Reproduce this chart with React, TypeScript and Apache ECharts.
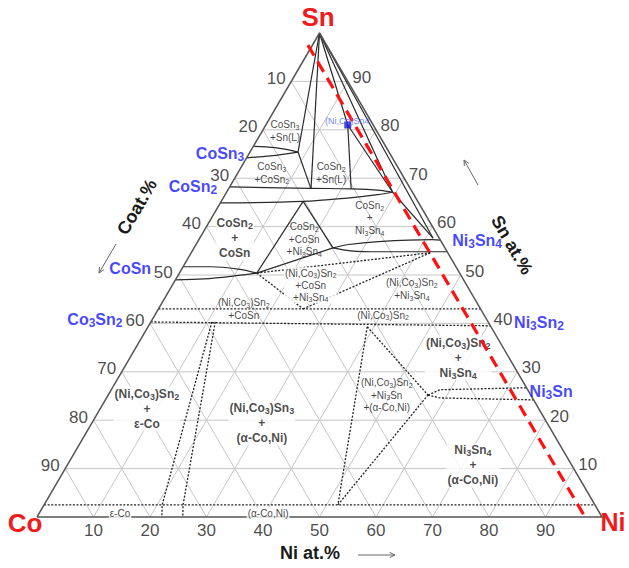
import React, { useEffect, useRef } from "react";
import * as echarts from "echarts";

// Ternary points are [Ni at.%, Sn at.%]; Co = 100 - Ni - Sn
type TP = [number, number];

const STEPS = [10, 20, 30, 40, 50, 60, 70, 80, 90];
const NI_TICKS = [10, 20, 30, 40, 50, 60, 70, 80, 90];
const CO_TICKS = [10, 20, 30, 40, 50, 60, 70, 80, 90];
const SN_TICKS = [10, 20, 30, 40, 50, 60, 70, 80, 90];

const TRIANGLE: TP[] = [[0, 0], [100, 0], [0, 100], [0, 0]];

// solid straight tie / boundary lines
const SOLID_LINES: TP[][] = [
  [[0, 100], [8.5, 75.4]],
  [[0, 100], [14.6, 67.8]],
  [[8.5, 75.4], [14.6, 67.8]],
  [[0, 100], [14.5, 81.0]],
  [[0, 100], [29.4, 67.1]],
  [[0, 100], [41.3, 57.6]],
  [[14.5, 81.0], [21.7, 67.8]],
  [[14.5, 81.0], [29.4, 67.1]],
  [[29.4, 67.1], [41.3, 57.6]],
  [[14.5, 65.2], [13.7, 50.4]],
  [[14.5, 65.2], [24.6, 55.6]],
  [[13.7, 50.4], [24.6, 55.6]],
];

// lens-shaped single-phase regions (solid curves)
const LENS_LINES: TP[][] = [
  [[0, 76.6], [4, 76.3], [8.5, 75.4]],
  [[0, 74.2], [4, 74.6], [8.5, 75.4]],
  [[0, 68.2], [14.6, 67.9], [21.7, 67.8], [27, 67.5], [29.4, 67.1]],
  [[0, 64.9], [14.5, 65.2], [22, 65.9], [27, 66.6], [29.4, 67.1]],
  [[24.6, 55.6], [27, 56.3], [32, 56.9], [41.3, 57.3], [42.8, 57.2]],
  [[24.6, 55.6], [28, 55.0], [33.3, 54.8], [45.2, 54.8]],
  [[0, 51.7], [5, 51.7], [10, 51.2], [13.7, 50.4]],
  [[0, 49.0], [5, 49.2], [10, 49.8], [13.7, 50.4]],
];

// dotted (estimated) boundaries
const DOTTED_LINES: TP[][] = [
  [[13.7, 50.4], [42.3, 54.6]],
  [[25.6, 43.0], [42.3, 54.6]],
  [[13.7, 50.4], [25.6, 43.0]],
  [[0, 43.0], [57, 43.0]],
  [[0, 40.3], [60.5, 39.5]],
  [[10.8, 40.3], [20.9, 2.5], [22.1, 0]],
  [[11.4, 40.3], [24.6, 2.5], [25.8, 0]],
  [[0, 2.5], [97.5, 2.5]],
  [[38.8, 39.3], [52.0, 2.5]],
  [[38.8, 39.3], [56.6, 25.2]],
  [[52.0, 2.5], [56.6, 25.2]],
  [[56.6, 25.2], [58.2, 26.3], [73.3, 26.7]],
  [[56.6, 25.2], [59.0, 24.6], [75.7, 24.2]],
];

const RED_DASH: TP[] = [[-0.8, 97.5], [97, 0]];
const NICOSN4_POINT: TP[] = [[14.5, 81.0]];

type Lbl = { text: string; at: TP };

const MINOR_LABELS: Lbl[] = [
  { text: "CoSn_3\n+Sn(L)", at: [4.0, 79.8] },
  { text: "CoSn_3\n+CoSn_2", at: [6.0, 71.1] },
  { text: "CoSn_2\n+Sn(L)", at: [16.5, 71.1] },
  { text: "CoSn_2\n+\nNi_3Sn_4", at: [28.0, 61.8] },
  { text: "CoSn_2\n+CoSn\n+Ni_3Sn_4", at: [18.6, 57.4] },
  { text: "(Ni,Co_3)Sn_2\n+Ni_3Sn_4", at: [42.8, 47.1] },
  { text: "(Ni,Co_3)Sn_2\n+CoSn", at: [15.1, 43.0] },
  { text: "(Ni,Co_3)Sn_2", at: [40.4, 41.7] },
  { text: "(Ni,Co_3)Sn_2\n+Ni_3Sn\n+(α-Co,Ni)", at: [49.3, 25.2] },
];
const MINOR_BG_LABELS: Lbl[] = [
  { text: "(Ni,Co_3)Sn_2\n+CoSn\n+Ni_3Sn_4", at: [24.5, 47.9] },
  { text: "ε-Co", at: [14.3, 0.8] },
  { text: "(α-Co,Ni)", at: [40.5, 0.8] },
];
const MAJOR_LABELS: Lbl[] = [
  { text: "CoSn_2\n+\nCoSn", at: [6.2, 57.6] },
  { text: "(Ni,Co_3)Sn_2\n+\nNi_3Sn_4", at: [58.1, 32.9] },
  { text: "Ni_3Sn_4\n+\n(α-Co,Ni)", at: [71.8, 10.7] },
  { text: "(Ni,Co_3)Sn_2\n+\nε-Co", at: [8.3, 22.3] },
  { text: "(Ni,Co_3)Sn_3\n+\n(α-Co,Ni)", at: [30.1, 19.4] },
];
const COMPOUND_LABELS: Lbl[] = [
  { text: "CoSn_3", at: [-5.2, 75.2] },
  { text: "CoSn_2", at: [-6.5, 68.2] },
  { text: "CoSn", at: [-9.2, 51.4] },
  { text: "Co_3Sn_2", at: [-10.2, 40.9] },
  { text: "Ni_3Sn_4", at: [49.3, 57.2] },
  { text: "Ni_3Sn_2", at: [68.8, 40.1] },
  { text: "Ni_3Sn", at: [78.0, 26.0] },
];
const PHASE_POINT_LABEL: Lbl[] = [{ text: "(Ni,Co)Sn4", at: [14.0, 81.8] }];

const FONT = "'Liberation Sans', Arial, Helvetica, sans-serif";
const INK = "#1a1a1a";
const RED = "#ee1c1c";
const BLUE = "#1414ff";

const toXY = (p: TP) => [p[0] + p[1] / 2, p[1]];
const sub = (t: string) => t.replace(/_(\w)/g, "{s|$1}");

function lineSeries(pts: TP[], style: any, z: number, smooth: number | boolean = false) {
  return {
    type: "line",
    data: pts.map(toXY),
    symbol: "none",
    showSymbol: false,
    silent: true,
    clip: false,
    smooth,
    z,
    lineStyle: style,
    emphasis: { disabled: true },
  };
}

function textSeries(items: Lbl[], cfg: any) {
  const {
    fontSize,
    fontWeight = "normal",
    color = INK,
    lineHeight,
    position = "inside",
    distance = 0,
    offset = [0, 0],
    bg,
    z = 5,
  } = cfg;
  const lh = lineHeight ?? Math.round(fontSize * 1.2);
  return {
    type: "scatter",
    silent: true,
    clip: false,
    z,
    symbol: "circle",
    symbolSize: 1,
    itemStyle: { color: "rgba(0,0,0,0)" },
    data: items.map((it) => ({ value: toXY(it.at), t: sub(it.text) })),
    label: {
      show: true,
      position,
      distance,
      offset,
      formatter: (p: any) => p.data.t,
      fontSize,
      fontWeight,
      color,
      fontFamily: FONT,
      lineHeight: lh,
      ...(position === "inside" ? { align: "center", verticalAlign: "middle" } : {}),
      ...(bg ? { backgroundColor: bg, padding: [0, 1] } : {}),
      rich: {
        s: {
          fontSize: Math.round(fontSize * 0.72),
          lineHeight: Math.round(fontSize * 0.8),
          verticalAlign: "bottom",
          fontWeight,
          color,
          fontFamily: FONT,
        },
      },
    },
    emphasis: { disabled: true },
  };
}

function arrow(x1: number, y1: number, x2: number, y2: number) {
  const a = Math.atan2(y2 - y1, x2 - x1);
  const L = 6;
  const w = 0.45;
  const p1 = [x2 - L * Math.cos(a - w), y2 - L * Math.sin(a - w)];
  const p2 = [x2 - L * Math.cos(a + w), y2 - L * Math.sin(a + w)];
  return [
    { type: "line", shape: { x1, y1, x2, y2 }, style: { stroke: "#666", lineWidth: 1 } },
    { type: "polyline", shape: { points: [p1, [x2, y2], p2] }, style: { stroke: "#666", lineWidth: 1, fill: null } },
  ];
}

function buildOption() {
  const series: any[] = [];
  // grid
  const gridStyle = { color: "#c6c6c6", width: 1 };
  STEPS.forEach((v) => {
    series.push(lineSeries([[0, v], [100 - v, v]], gridStyle, 1));
    series.push(lineSeries([[v, 0], [v, 100 - v]], gridStyle, 1));
    series.push(lineSeries([[100 - v, 0], [0, 100 - v]], gridStyle, 1));
  });
  const solid = { color: "#2a2a2a", width: 1.2 };
  SOLID_LINES.forEach((l) => series.push(lineSeries(l, solid, 2)));
  LENS_LINES.forEach((l) => series.push(lineSeries(l, solid, 2, 0.35)));
  const dotted = { color: "#222", width: 1.3, type: [2, 1.6] };
  DOTTED_LINES.forEach((l) => series.push(lineSeries(l, dotted, 2)));
  series.push(lineSeries(TRIANGLE, { color: "#555", width: 1.5 }, 3));

  // texts
  series.push(textSeries(MINOR_LABELS, { fontSize: 10, lineHeight: 12.5, z: 4, color: "#111" }));
  series.push(textSeries(MINOR_BG_LABELS, { fontSize: 10, lineHeight: 12, z: 4, bg: "#fff", color: "#111" }));
  series.push(textSeries(MAJOR_LABELS, { fontSize: 12, fontWeight: "bold", lineHeight: 15, z: 4, bg: "#fff" }));
  series.push(textSeries(COMPOUND_LABELS, { fontSize: 16, fontWeight: "bold", color: BLUE, z: 4 }));

  series.push(
    textSeries(
      NI_TICKS.map((v) => ({ text: String(v), at: [v, 0] as TP })),
      { fontSize: 17, position: "bottom", distance: 3, z: 4 }
    )
  );
  series.push(
    textSeries(
      CO_TICKS.map((v) => ({ text: String(v), at: [0, 100 - v] as TP })),
      { fontSize: 17, position: "left", distance: 5, offset: [0, -3], z: 4 }
    )
  );
  series.push(
    textSeries(
      SN_TICKS.map((v) => ({ text: String(v), at: [100 - v, v] as TP })),
      { fontSize: 17, position: "right", distance: 4, offset: [0, -4], z: 4 }
    )
  );

  series.push(lineSeries(RED_DASH, { color: "#ff1111", width: 3.2, type: [12, 7] }, 6));
  series.push({
    type: "scatter",
    silent: true,
    z: 7,
    symbol: "rect",
    symbolSize: 7,
    itemStyle: { color: "#1a1acc" },
    data: NICOSN4_POINT.map(toXY),
  });
  series.push(textSeries(PHASE_POINT_LABEL, { fontSize: 9, color: "#4a5cff", z: 8 }));

  const graphic: any[] = [
    { type: "text", x: 318, y: 17, style: { text: "Sn", fill: RED, fontSize: 26, fontWeight: "bold", fontFamily: FONT, align: "center", verticalAlign: "middle" } },
    { type: "text", x: 25, y: 523, style: { text: "Co", fill: RED, fontSize: 26, fontWeight: "bold", fontFamily: FONT, align: "center", verticalAlign: "middle" } },
    { type: "text", x: 613, y: 522, style: { text: "Ni", fill: RED, fontSize: 25, fontWeight: "bold", fontFamily: FONT, align: "center", verticalAlign: "middle" } },
    { type: "text", x: 310, y: 553, style: { text: "Ni at.%", fill: INK, fontSize: 18, fontWeight: "bold", fontFamily: FONT, align: "center", verticalAlign: "middle" } },
    { type: "text", x: 512, y: 245, rotation: -1.042, style: { text: "Sn at.%", fill: INK, fontSize: 18, fontWeight: "bold", fontFamily: FONT, align: "center", verticalAlign: "middle" } },
    { type: "text", x: 137, y: 207, rotation: 1.042, style: { text: "Coat.%", fill: INK, fontSize: 18, fontWeight: "bold", fontFamily: FONT, align: "center", verticalAlign: "middle" } },
    ...arrow(358, 555, 395, 555),
    ...arrow(478, 185, 464, 160),
    ...arrow(116, 244, 99, 273),
  ];

  return {
    animation: false,
    backgroundColor: "#fff",
    grid: { left: 37, top: 33, width: 565, height: 484, containLabel: false },
    xAxis: { type: "value", min: 0, max: 100, show: false },
    yAxis: { type: "value", min: 0, max: 100, show: false },
    tooltip: { show: false },
    series,
    graphic,
  };
}

export default function App() {
  const ref = useRef<HTMLDivElement>(null);
  useEffect(() => {
    document.body.style.margin = "0";
    const chart = echarts.init(ref.current!, null, { renderer: "svg" });
    chart.setOption(buildOption() as any);
    return () => chart.dispose();
  }, []);
  return <div ref={ref} style={{ width: 629, height: 568, background: "#fff" }} />;
}
